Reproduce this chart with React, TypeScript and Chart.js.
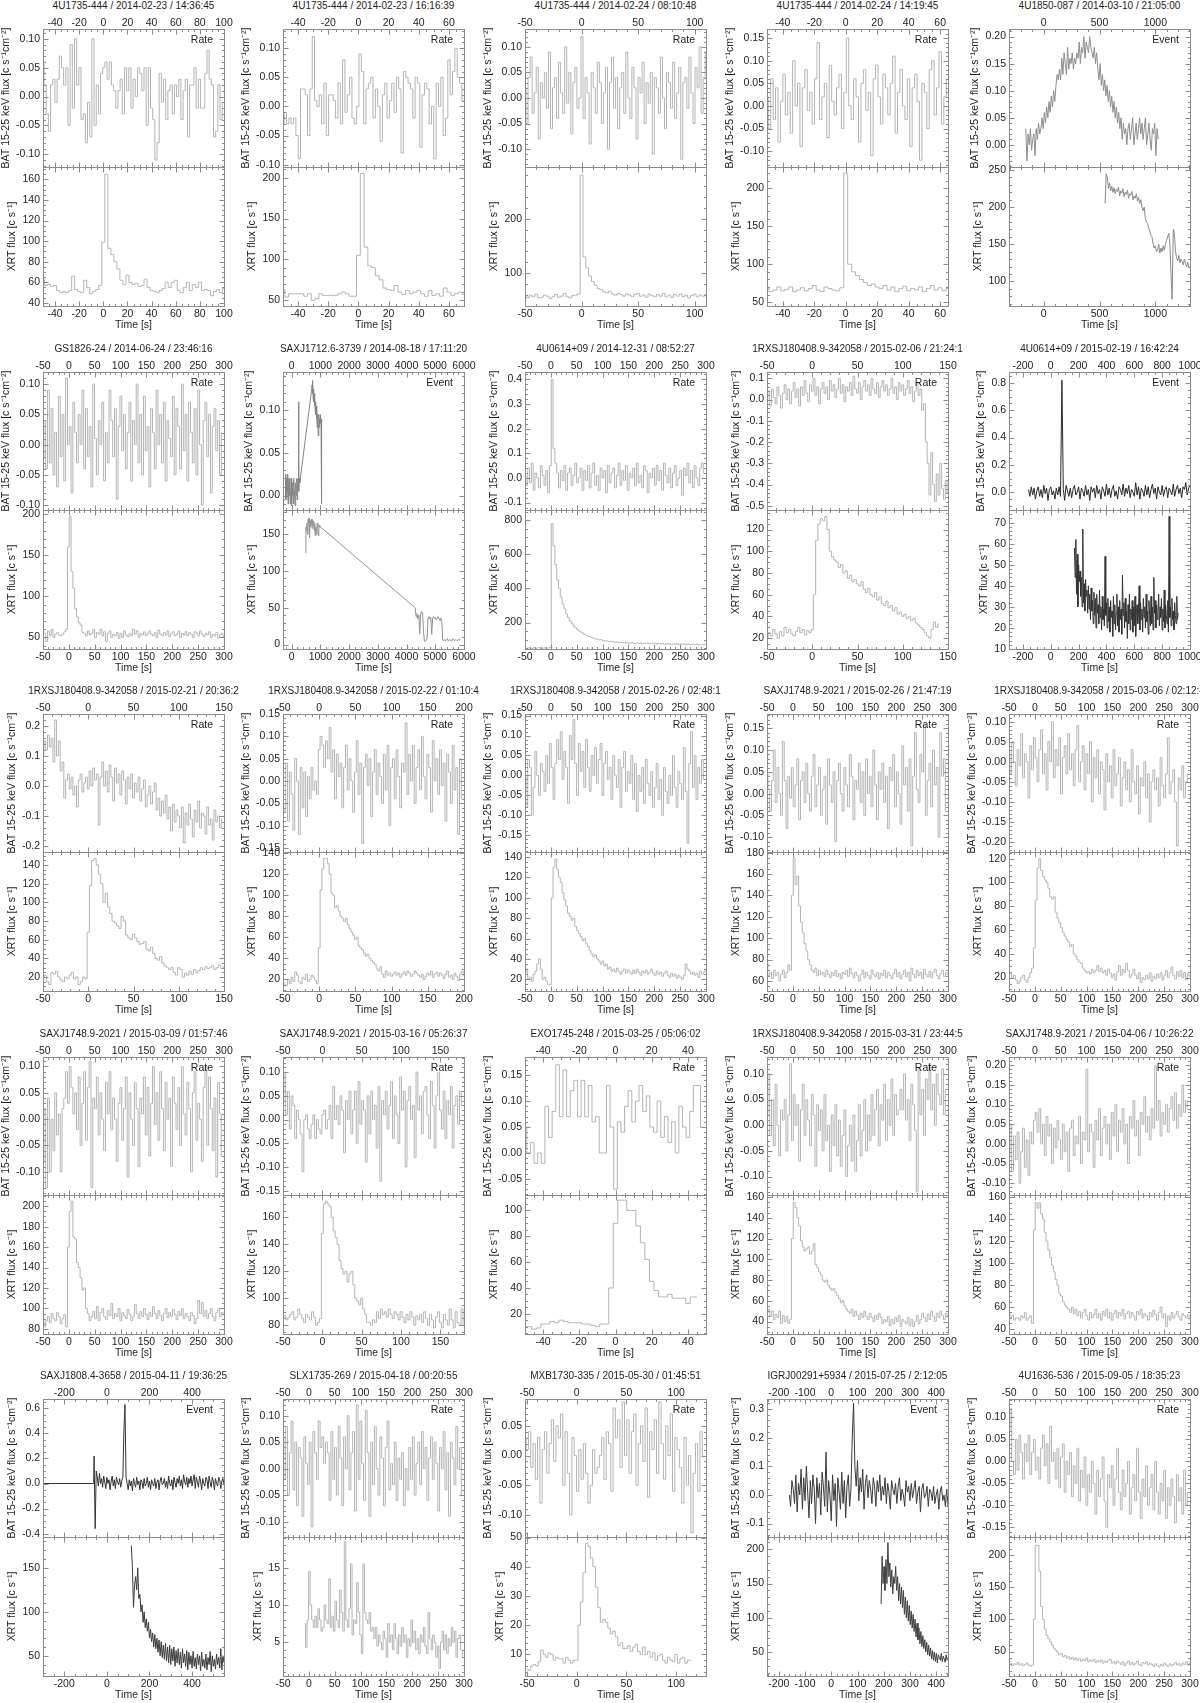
import React, { useEffect, useRef } from "react";
import { Chart, registerables } from "chart.js";
Chart.register(...registerables);

const FONT = '"Liberation Sans", Arial, Helvetica, sans-serif';
const TEXT = "#1e1e1e";
const FRAME = "#8c8c8c";
const RATE_LINE = "#b4b4b4";

const TITLES = [
  "4U1735-444 / 2014-02-23 / 14:36:45",
  "4U1735-444 / 2014-02-23 / 16:16:39",
  "4U1735-444 / 2014-02-24 / 08:10:48",
  "4U1735-444 / 2014-02-24 / 14:19:45",
  "4U1850-087 / 2014-03-10 / 21:05:00",
  "GS1826-24 / 2014-06-24 / 23:46:16",
  "SAXJ1712.6-3739 / 2014-08-18 / 17:11:20",
  "4U0614+09 / 2014-12-31 / 08:52:27",
  "1RXSJ180408.9-342058 / 2015-02-06 / 21:24:1",
  "4U0614+09 / 2015-02-19 / 16:42:24",
  "1RXSJ180408.9-342058 / 2015-02-21 / 20:36:2",
  "1RXSJ180408.9-342058 / 2015-02-22 / 01:10:4",
  "1RXSJ180408.9-342058 / 2015-02-26 / 02:48:1",
  "SAXJ1748.9-2021 / 2015-02-26 / 21:47:19",
  "1RXSJ180408.9-342058 / 2015-03-06 / 02:12:4",
  "SAXJ1748.9-2021 / 2015-03-09 / 01:57:46",
  "SAXJ1748.9-2021 / 2015-03-16 / 05:26:37",
  "EXO1745-248 / 2015-03-25 / 05:06:02",
  "1RXSJ180408.9-342058 / 2015-03-31 / 23:44:5",
  "SAXJ1748.9-2021 / 2015-04-06 / 10:26:22",
  "SAXJ1808.4-3658 / 2015-04-11 / 19:36:25",
  "SLX1735-269 / 2015-04-18 / 00:20:55",
  "MXB1730-335 / 2015-05-30 / 01:45:51",
  "IGRJ00291+5934 / 2015-07-25 / 2:12:05",
  "4U1636-536 / 2015-09-05 / 18:35:23",
];

const MODES = [
  "Rate", "Rate", "Rate", "Rate", "Event",
  "Rate", "Event", "Rate", "Rate", "Event",
  "Rate", "Rate", "Rate", "Rate", "Rate",
  "Rate", "Rate", "Rate", "Rate", "Rate",
  "Event", "Rate", "Rate", "Event", "Rate",
];

// [min, max, major step]
const X_AXES = [
  [-50, 100, 20], [-50, 70, 20], [-50, 110, 50], [-50, 65, 20], [-310, 1310, 500],
  [-50, 300, 50], [-300, 6000, 1000], [-50, 300, 50], [-50, 150, 50], [-300, 1000, 200],
  [-50, 150, 50], [-50, 200, 50], [-50, 300, 50], [-50, 300, 50], [-50, 300, 50],
  [-50, 300, 50], [-50, 180, 50], [-50, 50, 20], [-50, 300, 50], [-50, 300, 50],
  [-300, 550, 200], [-50, 300, 50], [-52, 130, 50], [-245, 445, 100], [-50, 300, 50],
];

// [min, max, major step, decimals]
const BAT_AXES = [
  [-0.122, 0.117, 0.05, 2], [-0.104, 0.133, 0.05, 2], [-0.135, 0.135, 0.05, 2], [-0.135, 0.17, 0.05, 2], [-0.041, 0.214, 0.05, 2],
  [-0.108, 0.12, 0.05, 2], [-0.017, 0.145, 0.05, 2], [-0.13, 0.43, 0.1, 1], [-0.52, 0.13, 0.1, 1], [-0.13, 0.88, 0.2, 1],
  [-0.22, 0.24, 0.1, 1], [-0.159, 0.15, 0.05, 2], [-0.192, 0.154, 0.05, 2], [-0.134, 0.183, 0.05, 2], [-0.225, 0.119, 0.05, 2],
  [-0.144, 0.118, 0.05, 2], [-0.159, 0.132, 0.05, 2], [-0.081, 0.185, 0.05, 2], [-0.136, 0.133, 0.05, 2], [-0.13, 0.221, 0.05, 2],
  [-0.427, 0.675, 0.2, 1], [-0.129, 0.1315, 0.05, 2], [-0.137, 0.095, 0.05, 2], [-0.147, 0.335, 0.1, 1], [-0.172, 0.142, 0.05, 2],
];

// [min, max, major step, decimals]
const XRT_AXES = [
  [37, 172, 20, 0], [43, 213, 50, 0], [40, 295, 100, 0], [45, 228, 50, 0], [67, 254, 50, 0],
  [36, 205, 50, 0], [-6, 183, 50, 0], [45, 860, 200, 0], [10, 138, 20, 0], [10, 76, 10, 0],
  [5, 154, 20, 0], [9, 141, 20, 0], [8.5, 145, 20, 0], [50.6, 180.6, 20, 0], [8.7, 125.6, 20, 0],
  [75, 211, 20, 0], [73.5, 176.6, 20, 0], [4.3, 112, 20, 0], [28, 162, 20, 0], [35.4, 162, 20, 0],
  [27, 185, 50, 0], [0.5, 19.1, 5, 0], [2.6, 50.2, 10, 0], [15, 218, 50, 0], [12, 228, 50, 0],
];

// [BAT line colour, XRT line colour]
const LINE_COLORS = [
  [RATE_LINE, RATE_LINE], [RATE_LINE, RATE_LINE], [RATE_LINE, RATE_LINE], [RATE_LINE, RATE_LINE], ["#8e8e8e", "#8a8a8a"],
  [RATE_LINE, RATE_LINE], ["#848484", "#939393"], [RATE_LINE, RATE_LINE], [RATE_LINE, RATE_LINE], ["#2a2a2a", "#333333"],
  [RATE_LINE, RATE_LINE], [RATE_LINE, RATE_LINE], [RATE_LINE, RATE_LINE], [RATE_LINE, RATE_LINE], [RATE_LINE, RATE_LINE],
  [RATE_LINE, RATE_LINE], [RATE_LINE, RATE_LINE], [RATE_LINE, RATE_LINE], [RATE_LINE, RATE_LINE], [RATE_LINE, RATE_LINE],
  ["#333333", "#3c3c3c"], [RATE_LINE, RATE_LINE], [RATE_LINE, RATE_LINE], ["#3a3a3a", "#404040"], [RATE_LINE, RATE_LINE],
];

// ---------------- light-curve values (BAT in c s^-1 cm^-2, XRT in c s^-1) ----------------
const P01_BAT = [.06,.02,-.03,-.06,.02,.03,-.01,.03,.07,.05,.02,.05,-.05,.09,-.02,.10,.02,.05,-.04,-.03,-.08,-.01,-.07,.10,-.05,.02,-.03,.04,.05,.06,.03,.06,.02,.01,-.02,.01,.03,-.03,.05,.01,.05,-.02,.03,.00,.05,.04,.01,.05,-.05,.05,-.02,-.04,-.11,-.08,.04,-.01,.03,-.04,.01,.02,-.03,.02,.00,.03,-.04,.01,.03,-.07,.02,.02,.05,-.02,.03,-.02,-.02,.04,.08,.03,.02,-.07,-.06,.02,-.04,-.01];
const P01_XRT = [63,57,58,56,57,52,50,51,50,52,66,53,51,50,62,55,49,51,53,57,99,165,93,87,80,73,62,58,67,60,58,59,56,57,63,55,52,51,50,52,54,60,55,60,62,52,50,55,60,52,58,55,60,52,53,52,47,51,53,50,54];
const P02_BAT = [-.03,-.01,-.03,-.02,-.03,-.02,-.05,-.09,.03,.03,.02,-.05,.03,.12,.01,.00,.02,-.03,.04,-.05,.02,.02,.01,-.02,.04,-.03,.08,-.01,.02,.05,-.02,-.03,.00,.09,.06,-.03,.03,.04,.05,-.02,.03,.00,-.06,.02,.04,-.02,.01,.04,-.01,.05,.03,-.08,.06,.05,.04,.03,-.02,.05,.04,-.07,.02,.04,.03,-.03,.00,-.09,.04,.00,.05,-.05,-.02,.08,.02,.06,.10,.05,.04,.01];
const P02_XRT = [63,54,58,58,58,58,55,58,50,52,58,56,56,56,56,58,60,58,55,55,105,205,115,92,90,80,75,65,63,62,68,60,57,62,58,60,62,58,55,62,56,58,55,65,60,56,58,60,57];
const P03_BAT = [.02,-.05,.04,.08,-.03,.01,.06,-.08,.03,.00,.05,-.02,.09,-.06,.02,.04,-.04,.07,.01,-.03,.10,-.01,.05,-.07,.03,.06,-.02,.00,.12,-.04,.04,.01,-.09,.05,.02,-.03,.07,.03,-.05,.01,.06,-.10,.03,.08,-.02,.04,-.06,.02,.05,-.03,.09,.00,-.04,.06,.02,-.08,.04,.01,.07,-.05,.03,-.01,.05,-.11,.04,.02,-.03,.08,.00,-.06,.05,.03,-.02,.07,-.04,.01,.06,-.12,.03,.04,-.02,.08,.01,-.05,.06,.02,.10,-.03,.04,.09];
const P03_XRT = [58,55,60,57,62,55,56,60,58,54,57,61,56,58,63,57,55,59,60,62,280,130,110,95,85,78,72,70,66,64,67,62,60,63,61,58,62,60,57,61,63,58,60,56,62,59,57,61,58,63,57,60,56,61,58,62,57,60,55,59,62,57,60,58,61];
const P04_BAT = [.02,-.05,.06,-.03,.04,-.08,.01,.07,-.02,.03,-.06,.10,.00,.05,-.09,.04,.08,-.01,.03,-.04,.06,.14,-.03,.02,.05,-.07,.09,.01,-.02,.04,.07,-.05,.03,.15,.00,-.03,.06,.02,-.08,.05,.08,-.01,.03,-.11,.06,.09,.02,-.04,.07,.04,-.02,.05,.11,-.06,.03,.08,.00,-.03,.06,-.09,.04,.07,.01,-.12,.05,.03,-.05,.08,.10,-.02,.04,.12,-.04,.02,.06];
const P04_XRT = [68,64,66,70,65,67,70,64,66,69,65,68,72,66,64,70,68,66,65,69,220,100,90,85,80,76,72,74,70,68,72,66,70,64,68,71,65,68,66,70,64,68,72,66,69,65,68];
const P05_BAT = [.03,-.03,.02,.00,.03,-.01,.01,.02,-.02,.03,.01,.04,.02,.03,.05,.03,.06,.04,.07,.05,.08,.06,.09,.07,.10,.08,.11,.13,.12,.14,.12,.16,.13,.17,.15,.13,.18,.14,.16,.15,.17,.14,.16,.15,.17,.16,.19,.15,.18,.17,.20,.16,.19,.18,.17,.20,.18,.17,.16,.18,.15,.17,.14,.12,.15,.11,.13,.10,.12,.09,.11,.08,.10,.07,.09,.06,.08,.05,.07,.04,.06,.03,.05,.01,.04,.02,.03,.00,.03,.04,.01,.03,.05,.00,.02,.04,.01,.03,.05,.02,.04,.01,.03,.05,.00,.02,.04,.01,-.01,.03,.02,.04,-.02,.03,.01];
const P05_XRT = [205,245,240,225,232,222,228,220,226,218,224,221,227,215,222,219,225,214,220,217,223,212,218,216,221,210,215,212,218,208,213,205,210,200,195,200,185,180,178,172,168,162,160,150,145,148,140,142,150,138,145,140,148,142,150,155,160,165,150,110,76,170,165,140,132,128,135,125,130,127,122,130,124,120,126,118];
const P06_BAT = [-.02,.04,-.04,.09,-.03,.06,-.05,.02,-.07,.08,-.02,.05,-.06,.11,.00,.03,-.08,.07,.02,-.03,.05,.00,.09,-.04,.06,-.02,.03,-.07,.10,.01,-.05,.04,.00,.07,-.06,.02,-.03,.09,.04,-.02,.06,-.09,.03,.08,-.01,.05,-.04,.02,.07,-.06,.04,.00,.10,-.03,.05,-.05,.08,-.01,.03,-.07,.06,.02,-.04,.09,.00,.05,-.03,.07,-.06,.04,.01,-.02,.08,-.05,.06,.03,-.04,.10,-.01,.05,-.06,.07,.02,-.03,.06,-.05,.09,.00,-.10,.04,.07,-.02,.05,-.08,.03,.06,-.01,.04,-.05,.02];
const P06_XRT = [58,55,45,58,52,60,50,54,56,53,52,54,57,60,160,197,130,110,85,75,68,65,56,55,52,58,53,55,60,50,56,54,60,52,57,45,55,58,50,54,52,56,49,55,50,58,53,51,55,52,60,54,58,50,55,53,57,52,55,58,54,52,56,50,59,54,52,56,53,58,51,55,57,52,54,58,50,55,53,57,52,56,54,50,57,55,52,58,54,51,55,53,57,50,54,52,56,49,53,55,51];
const P07_BAT_A = [-.004,-.005,-.006,-.005,-.005,-.004,.025,-.005,.02,.00,.025,.005,-.01,.015,.02,.00,.01,-.01,.005,.02,-.012,.015,.00,.01,-.01,.02,.005,.00,-.012,.015,.01,.00,.02,-.005,.01,.02,.11,.005,.02,.015];
const P07_BAT_B = [.125,.13,.12,.135,.115,.125,.11,.12,.105,.115,.10,.11,.095,.105,.09,.10,.08,.095,.085,.07,.09,.095,.08,.09,.085,.095,.09,.085,.09,-.01];
const P07_XRT_A = [125,160,155,165,150,170,165,172,145,168,160,170,165,158,170,162,168,155,165,148,160,150,158,165,160,148,158,162,160,160];
const P07_XRT_B = [50,38,42,35,40,15,42,45,44,20,5,4,6,8,36,38,35,37,14,36,38,35,37,34,36,38,35,33,36,30,6,5,7,5,6,8,5,6,7,5,6,8,6,5,7,6,5,7,6,8];
const P08_BAT = [.01,-.03,.04,-.02,.06,-.05,.02,.00,-.04,.05,.01,-.03,.03,-.06,.05,.40,.12,.06,.02,-.04,.03,-.01,.05,-.05,.02,.04,-.03,.01,.06,-.02,.00,.04,-.05,.03,-.01,.05,-.04,.02,.06,-.03,.01,-.05,.04,.00,.03,-.06,.05,-.02,.02,.04,-.04,.01,.06,-.03,.03,-.01,.05,-.05,.02,.00,.04,-.03,.06,-.02,.01,-.04,.05,.03,-.06,.02,.00,.04,-.03,.05,-.01,.03,-.05,.06,.01,-.02,.04,-.04,.02,.05,-.03,.00,.03,-.07,.04,.01,.06,-.02,.03,-.04,.05,.00,-.03,.04,.06,.02];
const P08_XRT = [55,48,52,50,47,53,49,51,54,48,50,52,49,51,55,780,650,540,450,400,350,310,280,250,230,210,195,180,170,160,150,145,138,130,125,120,118,112,108,105,102,98,100,95,92,94,90,88,90,86,85,87,83,84,82,85,80,82,79,83,80,78,81,77,80,76,79,77,80,75,78,76,79,74,77,75,78,73,76,74,77,72,75,73,76,71,74,72,75,70,74,72,70,73,71,74,69,72,70,73,71];
const P09_BAT = [.00,.04,-.03,.05,.01,-.02,.06,.02,-.04,.03,.07,.00,.05,-.02,.04,.08,.01,.05,-.03,.06,.02,.09,.03,-.01,.07,.04,.10,.02,.06,-.02,.05,.08,.03,.06,.00,.09,.04,.07,.01,.05,.10,.03,.07,-.01,.06,.04,.08,.02,.11,.05,.03,.08,.00,.06,.09,.04,.07,.02,.10,.05,.03,.08,.01,.06,.09,.04,.07,.02,.05,.10,.03,.06,.00,.08,.04,.07,.02,.05,.09,.03,.06,-.01,.04,.08,.02,.05,-.05,-.02,-.20,-.30,-.45,-.25,-.40,-.48,-.35,-.45,-.30,-.42,-.47,-.38,-.44];
const P09_XRT = [20,25,22,28,24,20,26,22,30,25,28,24,22,26,30,25,28,23,27,25,28,60,110,125,130,128,132,120,100,95,92,90,85,88,80,82,75,78,72,74,70,68,72,65,62,66,60,58,62,55,58,52,50,54,48,50,45,48,42,44,40,42,38,40,36,38,34,32,30,28,25,22,20,28,35,30,33];
const P10_BAT = [.02,-.03,.04,-.02,.03,-.05,.01,.04,-.03,.02,-.04,.05,-.01,.03,-.06,.02,.04,-.02,.01,-.05,.03,-.02,.04,-.03,.82,.02,-.06,.05,.01,-.03,.03,-.04,.02,.05,-.02,.00,.04,-.05,.03,.01,-.03,.05,-.02,.02,-.06,.04,.00,.03,-.04,.05,-.01,.02,-.05,.04,.01,-.03,.06,-.02,.03,-.04,.02,.05,-.03,.01,-.05,.04,.02,-.02,.06,-.03,.03,-.01,.05,-.04,.02,.00,-.03,.07,-.02,.04,-.05,.03,.01,-.03,.05,-.02,.04,-.04,.02,.06,-.01,.03,-.05,.04,.00,-.02,.05,-.03,.02,.04,-.04,.03,.01,-.02,.06,-.03,.02,.05,-.01,.03,-.04,.04,.02,.07,-.02,.03,.05];
const P10_XRT = [58,44,62,36,55,30,50,42,47,35,44,30,67,32,41,28,43,35,38,27,40,29,36,24,39,28,33,22,37,26,34,20,36,27,31,22,38,25,30,19,35,24,29,21,54,26,32,20,34,23,30,18,33,25,28,16,35,22,31,19,27,36,21,30,18,33,24,29,17,45,26,32,20,34,23,28,15,31,22,36,19,29,24,33,18,30,21,35,16,28,31,22,27,40,19,32,24,29,18,34,25,30,20,36,23,28,17,33,26,21,35,22,30,19,44,27,33,20,31,24,28,36,21,30,25,34,19,29,23,38,20,31,26,22,33,18,73,25,30,21,34,24,28,19,32,26,22,35,24,27];
const P11_BAT = [.10,.15,.12,.17,.13,.16,.08,.22,.10,.15,.05,.08,-.04,.02,.04,-.01,.03,-.03,.00,-.07,.02,.04,-.02,.01,.03,-.01,.05,.00,.06,.02,.04,-.13,.03,.08,.00,.05,-.02,.07,.03,-.05,.06,.01,.04,-.03,.05,.02,-.06,.03,-.01,.04,-.04,.01,-.02,.03,-.05,-.01,.02,-.07,-.03,.00,-.06,-.02,.01,-.08,-.04,-.10,-.05,-.09,-.03,-.11,-.07,-.15,-.06,-.12,-.08,-.10,-.14,-.07,-.19,-.09,-.13,-.06,-.11,-.17,-.08,-.12,-.05,-.14,-.09,-.10,-.16,-.07,-.13,-.11,-.18,-.08,-.12,-.10,-.14,-.11];
const P11_XRT = [20,22,15,12,25,23,26,20,17,15,20,18,22,25,18,20,12,15,20,18,68,118,145,147,140,130,120,100,110,95,88,80,78,75,72,85,80,65,62,60,66,62,58,55,56,58,50,48,52,45,40,38,42,35,32,30,28,30,25,22,30,28,20,24,22,26,23,28,25,27,30,28,31,29,30,32,28,30,33,29,31];
const P12_BAT = [-.05,-.07,.04,-.09,.02,-.03,-.11,.05,.00,-.12,.03,-.06,.02,-.08,.01,-.04,.03,-.02,.00,-.03,.07,.10,.08,.03,.09,.05,.12,.02,.07,-.04,.06,.01,.04,-.06,.03,.08,-.02,.05,.00,-.07,.02,.09,-.03,.04,-.14,.03,.06,-.01,.05,-.08,.02,.07,-.03,.04,.01,-.05,.06,-.02,.08,-.10,.03,.05,-.04,.07,.01,-.06,.04,.02,.13,-.03,.06,.00,.08,-.05,.03,.07,-.02,.10,.01,-.04,.06,.03,-.07,.09,.00,.05,-.03,.07,-.01,.04,-.09,.06,.02,-.05,.08,-.02,.03,-.12,.05,-.04];
const P12_XRT = [18,15,14,20,16,22,18,27,24,18,16,22,20,25,18,20,24,22,19,16,50,105,125,135,135,130,120,102,100,88,90,85,80,78,75,78,72,68,65,62,58,60,52,50,48,45,42,44,40,38,36,34,30,28,32,25,22,28,24,26,23,25,27,24,26,22,25,27,24,28,26,23,25,28,26,24,22,25,20,23,26,24,28,22,25,27,23,26,24,21,25,28,22,24,20,26,23,19,25,28,24];
const P13_BAT = [.00,-.08,.04,.02,-.10,-.03,.06,.00,-.05,.03,.01,-.04,.05,-.02,.08,.02,-.06,.03,.09,.04,.11,-.01,.06,.02,-.07,.10,.04,.14,.03,-.05,.08,.01,.06,-.03,.09,.02,-.04,.05,.00,.07,-.02,.04,.08,-.05,.03,.06,-.01,.02,-.06,.05,.00,-.03,.04,-.08,.02,.06,-.04,.01,-.02,.05,-.06,.03,-.09,.00,-.04,.02,-.07,.04,-.02,-.05,.01,-.08,-.03,.03,-.06,-.01,-.10,.02,-.04,-.07,.00,-.05,.05,-.03,-.08,.01,-.02,-.06,.07,-.04,-.17,.03,.11,-.03,.05,-.06,.02,-.02,.04,-.01];
const P13_XRT = [25,30,20,22,18,25,28,35,40,30,20,22,18,15,15,100,130,138,128,120,115,105,98,92,85,82,78,80,72,68,65,62,58,60,55,52,48,45,42,44,40,38,35,38,33,35,30,32,28,30,27,31,28,25,28,30,26,29,27,25,29,26,30,27,24,28,26,29,25,27,30,26,24,28,25,27,23,26,28,24,22,26,23,25,21,24,22,20,24,35,30,28,25,27,24,26,22,28,25,27,30];
const P14_BAT = [.05,.01,-.04,.03,.10,-.02,.06,.00,-.05,.12,.03,-.08,.04,-.01,.06,-.03,.02,.08,-.06,.03,.05,-.02,.07,.00,-.04,.04,.09,-.03,.02,.06,-.05,.01,.04,-.07,.08,.02,-.02,.05,-.11,.03,.07,.00,-.04,.06,.02,-.03,.09,.04,-.06,.03,.01,.07,-.02,.05,-.05,.08,.00,.04,-.03,.10,.02,-.06,.05,.01,.07,-.02,.04,-.08,.06,.03,.09,-.03,.05,.00,-.07,.11,.02,.06,-.04,.08,-.12,.04,.14,.01,-.02,.09,.05,.16,-.05,.03,.07,-.03,.10,.02,.06,-.10,.14,.04,.08,-.04];
const P14_XRT = [78,65,68,62,70,65,68,60,66,70,63,68,75,70,140,175,150,158,130,115,105,95,88,80,75,70,68,72,65,70,66,68,64,70,66,63,68,65,70,64,67,62,68,66,70,64,72,67,63,68,65,60,66,70,63,68,65,62,70,66,64,68,62,67,65,70,63,68,65,62,67,71,64,68,62,66,70,64,68,60,72,66,63,70,65,68,62,71,66,64,69,63,68,71,65,62,67,70,64,68,66];
const P15_BAT = [.02,-.03,.05,.00,-.06,.03,-.01,.07,-.04,.02,.00,-.09,.04,-.02,.06,.01,-.05,.03,.08,-.03,.02,-.07,.05,.00,.10,-.04,.03,-.01,.06,-.08,.01,.04,-.03,.07,-.02,.02,-.06,.03,.09,-.05,.00,.04,-.07,.02,-.03,.05,-.10,.01,-.04,.03,-.08,.00,-.02,-.12,.02,-.05,-.01,-.09,.03,-.06,-.03,.01,-.11,-.04,.00,-.07,-.02,-.10,.03,-.05,-.08,-.01,-.13,-.04,-.06,.00,-.09,-.03,-.15,-.05,-.02,-.07,-.04,-.11,.01,-.06,-.09,-.03,.06,-.08,-.05,-.02,-.10,-.21,-.04,-.07,-.01,-.09,-.05,-.03];
const P15_XRT = [22,24,20,22,18,15,17,20,22,18,16,20,24,28,45,85,112,120,110,105,102,100,95,88,86,88,75,70,66,62,58,55,52,50,46,48,40,38,35,33,32,28,26,24,25,23,27,24,26,30,25,28,24,26,22,27,24,20,23,18,25,30,22,27,24,32,26,20,23,27,22,19,24,16,20,18,22,19,24,17,21,19,23,20,24,18,22,26,20,24,29,22,19,25,21,26,20,24,18,23,21];
const P16_BAT = [-.08,.02,-.13,.04,-.10,.00,-.06,.05,-.03,.01,-.10,.02,.04,.09,.03,.10,.06,.01,.05,-.02,.08,-.05,.03,.09,-.04,.06,.11,-.13,.04,.02,.08,-.03,.05,.00,-.06,.07,.01,.09,-.02,.04,.00,-.08,.03,.06,-.04,.02,.08,-.11,.05,.00,-.05,.07,.02,-.09,.04,.01,.08,-.03,.06,-.07,.03,.10,-.01,.05,-.04,.09,.02,-.06,.07,.00,.04,-.09,.08,.03,-.02,.06,-.05,.10,.01,-.03,.07,.02,-.10,.05,.09,-.04,.03,.00,-.08,.06,.10,-.05,.08,.02,-.06,.04,-.11,.07,.01,-.07];
const P16_XRT = [90,82,88,92,86,95,90,88,96,92,85,90,94,82,160,195,205,170,168,145,140,130,118,120,100,95,88,92,97,90,102,88,96,100,92,89,98,93,105,90,95,92,100,88,96,93,90,99,94,88,92,104,95,90,97,92,100,94,89,96,92,102,95,90,98,93,88,95,100,91,96,92,99,94,89,97,93,100,90,95,92,88,96,93,85,90,108,95,106,92,98,90,95,100,92,88,96,100,92,96,94];
const P17_BAT = [.04,.10,.01,.06,-.02,.05,.03,-.04,.02,.00,-.03,-.11,.00,.01,-.02,-.04,-.01,.01,-.04,.00,-.02,-.03,.01,.02,-.02,.00,.03,-.04,.07,.00,.03,-.01,.05,.02,-.07,.04,.00,.06,-.03,.02,.06,-.05,.08,-.01,.04,.02,-.09,.05,-.03,.06,.00,.03,-.06,.07,-.13,.04,.01,.06,-.02,.03,.08,-.04,.05,.01,-.05,.09,.02,.06,-.10,.04,.07,.00,.03,-.08,.10,.02,.05,-.03,.06,.07,.01,-.04,.08,.03,-.06,.05,.10,.02,-.02,.06,-.04,.04,.01,.07,-.06,.03,.05,-.01,.06,.03];
const P17_XRT = [85,87,84,86,88,90,84,86,92,88,85,82,88,86,84,90,86,80,82,85,148,170,172,170,168,160,150,145,140,128,122,118,120,112,118,120,110,100,98,95,100,92,88,82,82,80,84,82,90,85,92,88,90,86,92,88,85,90,88,84,90,86,82,88,84,90,86,80,87,84,88,82,90,85,80,88,84,78,86,90,82,78,88,84,80,92,84,78,90,82,80,92,80];
const P18_BAT = [.05,.00,.02,-.02,.00,-.02,.09,.03,.08,.17,.07,.16,.07,.12,.14,.07,.14,.07,.13,.06,.07,.00,.00,.13,.05,-.07,.06,.04,.09,.12,.06,.10,.13,.08,.11,.05,.04,.10,.03,.07,.02,.06,.00,.09,.05,.03,.08,.13,.13,.05];
const P18_XRT = [10,10,8,9,12,12,14,13,15,14,13,13,13,12,12,11,10,12,12,40,90,108,108,100,100,88,75,62,45,38,33,33,35,32,32,32,28,33,33];
const P19_BAT = [.02,.10,-.02,.05,-.04,.08,.00,-.06,.03,.01,.05,-.05,.02,.12,-.03,.06,.00,.04,-.07,.03,.08,-.02,.05,.01,-.04,.06,.02,-.08,.04,-.01,.03,-.05,.06,-.03,.00,-.09,.02,-.04,.04,-.06,.01,-.08,-.02,.03,-.10,-.04,.00,-.07,.02,-.09,-.03,.04,-.06,-.01,.05,-.05,.02,-.03,.06,-.02,.03,.07,-.04,.04,.01,.08,-.03,.05,.00,.09,-.02,.06,.02,.03,.07,.03,.10,.01,.05,-.03,.08,.04,-.01,-.13,.11,.02,.07,-.02,.09,.05,.12,.03,.08,.00,.10,.06,.04,.11,.02,.07];
const P19_XRT = [48,52,45,50,42,47,44,50,38,46,40,45,38,42,120,155,150,140,132,118,112,108,110,112,105,108,115,95,92,88,85,80,78,80,75,72,70,72,68,65,62,58,60,55,52,50,48,52,45,50,46,42,48,44,50,45,42,48,44,40,46,42,48,44,38,42,40,45,36,42,38,44,40,46,35,42,40,38,44,36,42,35,40,46,38,42,48,44,40,47,42,50,45,40,48,44,50,46,42,48,45];
const P20_BAT = [-.03,.05,-.07,.02,-.04,.03,-.10,-.02,.04,-.06,.01,-.08,.03,.00,.06,.08,.03,.09,.00,.05,-.03,.07,.02,.05,-.05,.04,-.01,.06,.01,-.04,.05,-.02,.03,-.07,.04,.06,-.03,.02,.00,.07,-.05,.03,.01,.19,-.02,.05,.03,-.06,.06,.01,.09,-.03,.04,.07,.00,.05,-.04,.08,.02,.10,-.02,.06,.03,.09,.00,.05,-.05,.07,.04,.11,.02,.06,-.03,.08,.05,.12,.03,.07,.01,.09,.04,.20,.06,.11,.02,.08,.05,.10,.03,.09,.12,.06,.13,.04,.10,.07,.15,.08,.11,.09];
const P20_XRT = [55,50,52,48,50,50,48,52,50,55,48,50,52,45,130,155,150,155,145,140,128,120,112,105,98,92,85,80,72,70,65,62,60,58,55,60,54,58,52,56,50,55,58,52,48,55,50,53,58,50,54,48,56,52,58,50,55,48,54,57,50,55,52,58,49,54,56,50,55,52,48,56,53,58,50,54,52,48,55,51,57,53,48,55,60,50,54,42,52,48,55,50,53,56,51,48,54,52,50,53,51];
const P21_BAT_A = [0, 0];
const P21_BAT_B = [.22,-.36,.10,.05,-.02,.08,.00,.04,-.03,.06,.01,-.04,.05,.00,.03,-.05,.02,.06,-.02,.03,-.04,.05,.01,-.01,.04,-.03,.02,.05,.42,.63,.05,.00,-.05,.03,-.02,.02,-.06,.04,.00,-.03,.05,-.01,.02,-.05,.03,.01,-.04,.04,-.02,.00,.05,-.03,.02,-.05,.03,.00,-.02,.04,-.04,.01,.03,-.05,.02,.05,-.01,.00,.04,-.03,.02,-.04,.06,.00,-.02,.03,-.05,.05,.01,-.03,.04,.00,.06,-.02,.03,-.04,.07,.02,-.01,.05,-.03,.04,.00,.06,-.02,.03,.07,-.04,.05,.01,-.03,.06,.02,-.05,.04,.00,-.02,.05,.03,-.04,.06,.01,-.03,.05,.02,-.05,.04,.00,-.02,.05,.03,-.04,.02,.04,-.01];
const P21_XRT = [175,150,105,130,140,125,150,115,120,100,108,88,100,82,92,78,88,70,80,66,76,60,74,58,70,54,68,50,66,48,62,46,64,44,60,42,62,40,58,44,60,38,56,42,58,40,54,36,58,42,52,38,56,34,54,40,50,36,55,38,48,35,52,40,50,33,54,38,46,36,52,34,48,40,55,32,50,38,46,35,52,40,48,36,58,34,50,42];
const P22_BAT = [.06,-.02,.08,-.05,.03,.09,-.04,.05,-.07,.04,.02,-.09,.06,.01,-.03,.05,-.11,.07,.03,-.02,.09,.04,.06,.01,.05,.03,-.06,.07,-.02,.04,-.05,.08,.02,-.07,.06,.00,.10,-.04,.03,.07,-.08,.12,-.02,.09,.01,-.06,.11,.03,-.09,.05,-.03,.08,.00,-.05,.06,.02,-.07,.04,.09,-.04,.01,-.03,.05,-.06,.02,-.02,.03,-.07,.00,-.04,.04,-.02,.06,-.05,.01,.05,-.03,.07,.00,.04,-.06,.02,.06,-.02,.05,.01,-.08,.04,.00,.07,-.04,.03,-.09,.05,.02,-.03,.08,.00,.04,-.05];
const P22_XRT = [7.5,4.3,8,14.5,10,8,7,8.5,7,9.5,8,6.5,7,10,8,7.5,13.5,7,8.5,6.5,10.5,8,7,12,9,6.5,18.5,8,7,9.5,15.5,6,8,7.5,13,9,6,3.5,15.5,9,8,7.5,9,6.5,7,5.5,7,4.5,6,5,4,6.5,5.5,3,7.5,5,6,4,7.5,5.5,3.5,6,4.5,7,5,6,3,5.5,4.5,8,5,6.5,4,5.5,3.5,6,5,7,4.5,3.5,9,5.5,4,6,5,3,4.5,1.5,5,6.5,4,6,3.5,5.5,4.5,7,5,6.5,3,5.5,6,4,3];
const P23_BAT = [.03,.01,.04,-.02,.02,-.04,.03,-.08,.01,.04,-.03,.02,.06,-.01,.05,.03,.07,-.05,.04,-.03,-.10,.03,.00,-.06,.01,-.04,.02,-.03,-.08,-.05,.01,-.03,-.02,.00,.03,-.04,.04,.02,-.06,.08,.03,.06,-.02,.09,.00,.06,-.03,.04,.07,-.05,.02,.05,-.01,.08,-.07,.04,.01,.06,-.03,.09,.02,-.04,.05,.00,.07,-.06,.03,.01,-.02,-.08,.03,-.05,.00,-.13,-.03,.02,-.06,.04,.00];
const P23_XRT = [5,4.5,6,6.5,6,7.5,11.5,10,9,10.5,10,8,9,8.5,8.5,7,9,8,7,8,8,20,28,38,48,47,43,40,33,26,21,22,21,19,17,18,16,13,14,12,12,13,11,12.5,13.5,11,10,12.5,10,11,9,10.5,8,9.5,10,8,7,9,8,7.5,10,7,8.5,9,7,8,8];
const P24_BAT = [.00,-.04,.05,.02,-.03,.07,-.06,.04,.00,.09,-.05,.06,-.02,.10,.01,-.08,.05,-.03,.07,.02,-.10,.06,-.01,.04,-.07,.08,.03,-.04,.15,-.06,.05,.00,-.09,.07,-.02,.04,-.11,.06,.01,-.05,.08,-.03,.05,-.08,.03,.07,-.04,.02,.20,.32,.10,.03,.12,-.02,.06,.01,.09,-.05,.04,.07,-.01,.05,.02,-.03,.06,.03,-.04,.05,.01,.07,-.02,.03,.00,.06,-.03,.04,.01,-.05,.05,.02,.00,.04,-.03,.03,.06,-.02,.02,.00,-.04,.05,.01,.03,-.02,.04,-.01,.02,.05,-.03,.01,.03,-.06,.02,.04,-.01,.00,.03,-.04,.02,.01,-.02,.03,-.03,.00,.02,-.05,.01,.03,-.02,.00,-.04,.02,-.04];
const P24_XRT = [120,190,150,175,140,185,150,210,160,180,145,170,135,160,150,175,140,160,125,150,120,145,115,140,105,130,100,125,95,118,90,110,85,105,80,98,72,92,68,85,62,80,58,74,55,68,50,64,46,60,44,56,40,52,38,50,36,48,34,46,42,38,48,36,44,40,35,46,38,42];
const P25_BAT = [.07,.12,.00,-.03,.05,-.02,.06,.02,-.04,.04,.00,.06,-.03,.02,.05,-.02,.01,-.04,.03,.06,-.01,.04,-.05,.08,.00,.02,-.04,.03,-.06,.01,.04,-.07,.00,-.03,.02,-.08,-.01,-.05,.03,-.09,-.02,-.06,.01,-.10,-.03,-.07,.00,-.05,-.12,-.02,-.08,-.04,.01,-.09,-.15,-.03,-.06,-.01,-.10,-.04,.03,-.07,-.11,-.02,-.08,-.05,.00,-.12,-.06,-.03,-.09,.03,-.07,-.13,-.04,-.08,-.01,-.10,-.06,-.03,-.11,.00,-.07,-.12,-.05,-.09,-.02,-.13,-.06,-.10,-.04,-.08,-.14,-.03,-.09,-.06,-.12,-.02,-.10,-.07];
const P25_XRT = [30,32,28,31,30,33,29,31,28,30,32,29,27,29,100,215,215,175,120,100,85,75,70,65,60,55,52,48,45,47,42,44,40,42,38,41,37,40,36,39,35,38,36,40,34,37,35,38,33,36,34,37,32,35,33,36,38,32,34,31,35,33,30,34,28,32,35,30,33,29,32,35,30,28,33,31,34,29,32,30,27,31,28,26,30,28,32,29,27,31,28,30,33,29,31,28,32,30,34,29,32];

// Each series: list of segments [first bin time (s), bin width (s), values]
const BAT_SERIES = [
  [[-50, 1.8, P01_BAT]], [[-50, 1.55, P02_BAT]], [[-50, 1.8, P03_BAT]], [[-50, 1.55, P04_BAT]], [[-160, 10.4, P05_BAT]],
  [[-50, 3.5, P06_BAT]], [[-300, 15, P07_BAT_A], [700, 12, P07_BAT_B]], [[-50, 3.5, P08_BAT]], [[-50, 2, P09_BAT]], [[-160, 10, P10_BAT]],
  [[-50, 2, P11_BAT]], [[-50, 2.5, P12_BAT]], [[-50, 3.5, P13_BAT]], [[-50, 3.5, P14_BAT]], [[-50, 3.5, P15_BAT]],
  [[-50, 3.5, P16_BAT]], [[-50, 2.3, P17_BAT]], [[-50, 2, P18_BAT]], [[-50, 3.5, P19_BAT]], [[-50, 3.5, P20_BAT]],
  [[-300, 238, P21_BAT_A], [-60, 5, P21_BAT_B]], [[-50, 3.5, P22_BAT]], [[-52, 2.3, P23_BAT]], [[-160, 5, P24_BAT]], [[-50, 3.5, P25_BAT]],
];
const XRT_SERIES = [
  [[-50, 2.5, P01_XRT]], [[-50, 2.5, P02_XRT]], [[-50, 2.5, P03_XRT]], [[-50, 2.5, P04_XRT]], [[550, 10, P05_XRT]],
  [[-50, 3.5, P06_XRT]], [[480, 18, P07_XRT_A], [4300, 32, P07_XRT_B]], [[-50, 3.5, P08_XRT]], [[-50, 2.5, P09_XRT]], [[170, 5, P10_XRT]],
  [[-50, 2.5, P11_XRT]], [[-50, 2.5, P12_XRT]], [[-50, 3.5, P13_XRT]], [[-50, 3.5, P14_XRT]], [[-50, 3.5, P15_XRT]],
  [[-50, 3.5, P16_XRT]], [[-50, 2.5, P17_XRT]], [[-50, 2.5, P18_XRT]], [[-50, 3.5, P19_XRT]], [[-50, 3.5, P20_XRT]],
  [[115, 5, P21_XRT]], [[-8, 3, P22_XRT]], [[-50, 2.5, P23_XRT]], [[190, 3.7, P24_XRT]], [[-50, 3.5, P25_XRT]],
];

// ---------------- layout ----------------
const COL_LEFT = [43, 283, 525, 767, 1009];
const ROW_TOP = [29, 372, 714, 1057, 1399];
const PLOT_W = 181;
const TOP_H = 138;
const BOT_H = 139;
const Y_BOX = 43;
const RIGHT_PAD = 20;
const TOP_AXIS_H = 22;
const BOT_AXIS_H = 25;
const EDGE_PAD = 10;
const FONT_SIZE = 10.5;
const TITLE_SIZE = 10;

function tickValues(min: number, max: number, step: number) {
  const out: number[] = [];
  const k0 = Math.ceil(min / step - 1e-6);
  const k1 = Math.floor(max / step + 1e-6);
  for (let k = k0; k <= k1; k++) out.push(Number((k * step).toFixed(6)));
  return out;
}

function minorValues(min: number, max: number, step: number) {
  const lead = Math.round(step / Math.pow(10, Math.floor(Math.log10(step) + 1e-9)));
  const n = lead === 2 ? 4 : 5;
  const sub = step / n;
  const out: number[] = [];
  const k0 = Math.ceil(min / sub - 1e-6);
  const k1 = Math.floor(max / sub + 1e-6);
  for (let k = k0; k <= k1; k++) if (k % n !== 0) out.push(k * sub);
  return out;
}

function toPoints(segs: any[]) {
  const pts: { x: number; y: number }[] = [];
  segs.forEach(([t0, dt, vals]) => {
    vals.forEach((v: number, i: number) => pts.push({ x: t0 + i * dt, y: v }));
  });
  return pts;
}

let measureCtx: CanvasRenderingContext2D | null = null;
function textWidth(s: string) {
  if (!measureCtx) measureCtx = document.createElement("canvas").getContext("2d");
  if (!measureCtx) return s.length * 5.8;
  measureCtx.font = `${FONT_SIZE}px ${FONT}`;
  return measureCtx.measureText(s).width;
}

function framePlugin(xa: number[], ya: number[]) {
  return {
    id: "idlFrame",
    afterDraw(chart: any) {
      const { ctx, chartArea: a } = chart;
      const xs = chart.scales.x;
      const ys = chart.scales.y;
      const L = Math.round(a.left) + 0.5;
      const R = Math.round(a.right) + 0.5;
      const T = Math.round(a.top) + 0.5;
      const B = Math.round(a.bottom) + 0.5;
      ctx.save();
      ctx.strokeStyle = FRAME;
      ctx.lineWidth = 1;
      ctx.strokeRect(L, T, R - L, B - T);
      ctx.beginPath();
      const xTick = (v: number, len: number) => {
        const px = Math.round(xs.getPixelForValue(v)) + 0.5;
        ctx.moveTo(px, B); ctx.lineTo(px, B - len);
        ctx.moveTo(px, T); ctx.lineTo(px, T + len);
      };
      const yTick = (v: number, len: number) => {
        const py = Math.round(ys.getPixelForValue(v)) + 0.5;
        ctx.moveTo(L, py); ctx.lineTo(L + len, py);
        ctx.moveTo(R, py); ctx.lineTo(R - len, py);
      };
      tickValues(xa[0], xa[1], xa[2]).forEach((v) => xTick(v, 5));
      minorValues(xa[0], xa[1], xa[2]).forEach((v) => xTick(v, 2.5));
      tickValues(ya[0], ya[1], ya[2]).forEach((v) => yTick(v, 5));
      minorValues(ya[0], ya[1], ya[2]).forEach((v) => yTick(v, 2.5));
      ctx.stroke();
      ctx.restore();
    },
  };
}

function modePlugin(text: string) {
  return {
    id: "modeLabel",
    afterDatasetsDraw(chart: any) {
      const { ctx, chartArea: a } = chart;
      ctx.save();
      ctx.font = `${FONT_SIZE}px ${FONT}`;
      ctx.fillStyle = TEXT;
      ctx.textAlign = "right";
      ctx.textBaseline = "middle";
      ctx.fillText(text, a.right - 11, a.top + 11);
      ctx.restore();
    },
  };
}

function makeConfig(i: number, isTop: boolean) {
  const xa = X_AXES[i];
  const ya = isTop ? BAT_AXES[i] : XRT_AXES[i];
  const segs = isTop ? BAT_SERIES[i] : XRT_SERIES[i];
  const color = LINE_COLORS[i][isTop ? 0 : 1];
  const dec = ya[3];
  const yLabels = tickValues(ya[0], ya[1], ya[2]).map((v) => v.toFixed(dec));
  const maxW = Math.max(...yLabels.map(textWidth));
  const titlePad = Math.max(0, 23.5 - maxW);
  const font = { family: FONT, size: FONT_SIZE, lineHeight: 1.2 };

  const plugins: any[] = [framePlugin(xa, ya)];
  if (isTop) plugins.push(modePlugin(MODES[i]));

  return {
    type: "line",
    data: {
      datasets: [
        {
          data: toPoints(segs),
          borderColor: color,
          borderWidth: 1,
          pointRadius: 0,
          pointHoverRadius: 0,
          fill: false,
          tension: 0,
          stepped: MODES[i] === "Rate" ? "middle" : false,
        },
      ],
    },
    options: {
      animation: false,
      responsive: false,
      maintainAspectRatio: false,
      devicePixelRatio: 1,
      events: [],
      layout: {
        padding: isTop
          ? { top: 0, left: 0, right: RIGHT_PAD, bottom: EDGE_PAD }
          : { top: EDGE_PAD, left: 0, right: RIGHT_PAD, bottom: 0 },
      },
      plugins: { legend: { display: false }, tooltip: { enabled: false }, title: { display: false } },
      scales: {
        x: {
          type: "linear",
          position: isTop ? "top" : "bottom",
          min: xa[0],
          max: xa[1],
          bounds: "data",
          grid: { display: false, drawTicks: false },
          border: { display: false },
          ticks: {
            autoSkip: false,
            maxRotation: 0,
            minRotation: 0,
            padding: isTop ? 0 : 2,
            color: TEXT,
            font,
            callback: (v: any) => Number(v).toFixed(0),
          },
          title: isTop
            ? { display: false }
            : { display: true, text: "Time [s]", color: TEXT, font, padding: { top: 0, bottom: 0 } },
          afterBuildTicks: (s: any) => {
            s.ticks = tickValues(xa[0], xa[1], xa[2]).map((value) => ({ value }));
          },
          afterFit: (s: any) => {
            s.height = isTop ? TOP_AXIS_H : BOT_AXIS_H;
            s.paddingLeft = 0; s.paddingRight = 0; s.paddingTop = 0; s.paddingBottom = 0;
          },
        },
        y: {
          type: "linear",
          position: "left",
          min: ya[0],
          max: ya[1],
          bounds: "data",
          grid: { display: false, drawTicks: false },
          border: { display: false },
          ticks: {
            autoSkip: false,
            padding: 3,
            color: TEXT,
            font,
            callback: (v: any) => Number(v).toFixed(dec),
          },
          title: {
            display: true,
            text: isTop ? "BAT 15-25 keV flux [c s\u207B\u00B9cm\u207B\u00B2]" : "XRT flux [c s\u207B\u00B9]",
            color: TEXT,
            font,
            padding: { top: titlePad, bottom: 0 },
          },
          afterBuildTicks: (s: any) => {
            s.ticks = tickValues(ya[0], ya[1], ya[2]).map((value) => ({ value }));
          },
          afterFit: (s: any) => {
            s.width = Y_BOX;
            s.paddingLeft = 0; s.paddingRight = 0; s.paddingTop = 0; s.paddingBottom = 0;
          },
        },
      },
    },
    plugins,
  };
}

export default function App() {
  const refs = useRef<(HTMLCanvasElement | null)[]>([]);

  useEffect(() => {
    const charts: Chart[] = [];
    for (let i = 0; i < TITLES.length; i++) {
      const topC = refs.current[2 * i];
      const botC = refs.current[2 * i + 1];
      if (topC) charts.push(new Chart(topC, makeConfig(i, true) as any));
      if (botC) charts.push(new Chart(botC, makeConfig(i, false) as any));
    }
    return () => charts.forEach((c) => c.destroy());
  }, []);

  const topW = Y_BOX + PLOT_W + RIGHT_PAD;
  const topHt = TOP_AXIS_H + TOP_H + EDGE_PAD;
  const botHt = EDGE_PAD + BOT_H + BOT_AXIS_H;

  return (
    <div
      style={{
        position: "absolute",
        left: 0,
        top: 0,
        width: 1200,
        height: 1703,
        overflow: "hidden",
        background: "#ffffff",
      }}
    >
      {TITLES.map((title, i) => {
        const col = i % 5;
        const row = Math.floor(i / 5);
        const pl = COL_LEFT[col];
        const pt = ROW_TOP[row];
        return (
          <React.Fragment key={i}>
            <div
              style={{
                position: "absolute",
                left: pl - 30,
                width: PLOT_W + 60,
                top: pt - 29,
                height: 12,
                lineHeight: "12px",
                fontFamily: FONT,
                fontSize: TITLE_SIZE,
                color: TEXT,
                textAlign: "center",
                whiteSpace: "nowrap",
              }}
            >
              {title}
            </div>
            <canvas
              ref={(el) => {
                refs.current[2 * i] = el;
              }}
              width={topW}
              height={topHt}
              style={{ position: "absolute", left: pl - Y_BOX, top: pt - TOP_AXIS_H, width: topW, height: topHt }}
            />
            <canvas
              ref={(el) => {
                refs.current[2 * i + 1] = el;
              }}
              width={topW}
              height={botHt}
              style={{ position: "absolute", left: pl - Y_BOX, top: pt + TOP_H - EDGE_PAD, width: topW, height: botHt }}
            />
          </React.Fragment>
        );
      })}
    </div>
  );
}
